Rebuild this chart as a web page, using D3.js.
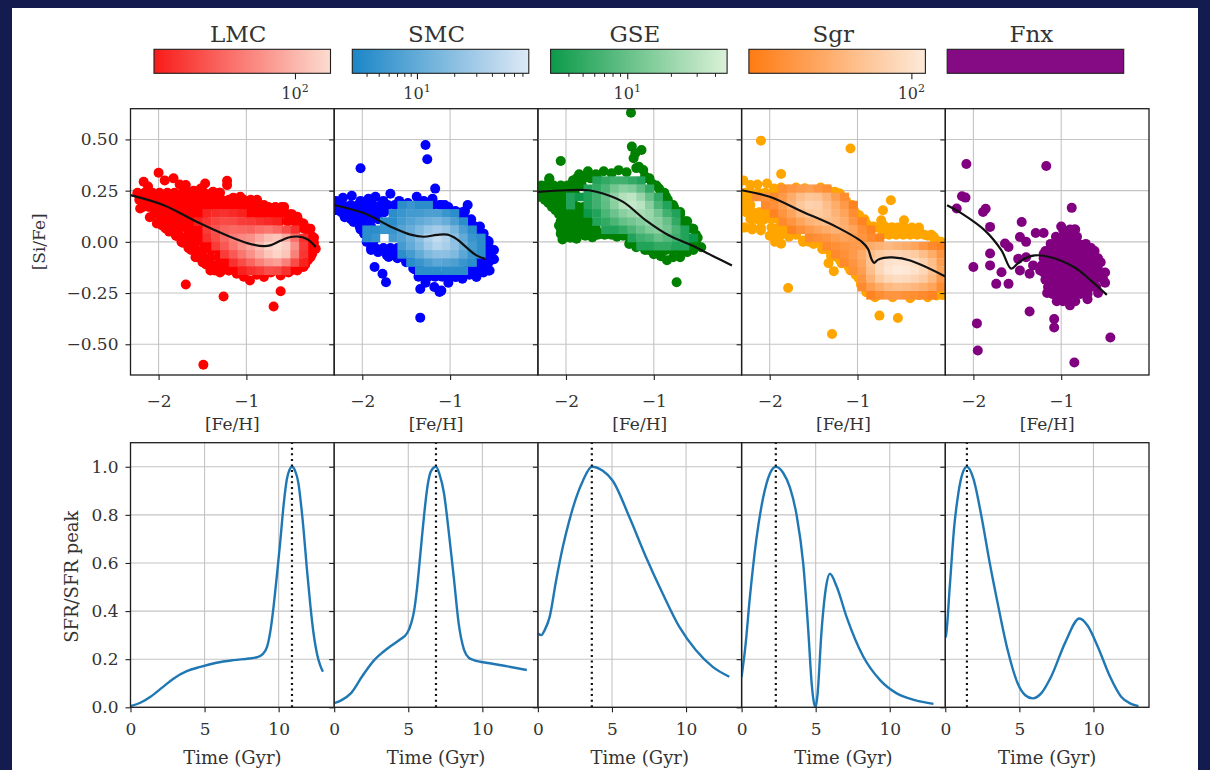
<!DOCTYPE html>
<html>
<head>
<meta charset="utf-8">
<script src="https://cdn.jsdelivr.net/npm/d3@7"></script>
<style>
  html, body { margin: 0; padding: 0; background: #141b4f; }
  svg { display: block; }
</style>
</head>
<body>
<svg id="fig" width="1210" height="770"></svg>
<script>
// ---------------------------------------------------------------
// Axis ranges and tick values
// ---------------------------------------------------------------
const fehDomain = [-2.32, 0.0];
const siDomain = [-0.65, 0.65];
const timeDomain = [0, 13.75];
const sfrDomain = [0, 1.1];
const fehTicks = [-2, -1];
const siTicks = [0.5, 0.25, 0, -0.25, -0.5];
const timeTicks = [0, 5, 10];
const sfrTicks = [0, 0.2, 0.4, 0.6, 0.8, 1.0];

// ---------------------------------------------------------------
// Galaxies, colours and density colour bars
// ---------------------------------------------------------------
const galaxyNames = ["LMC", "SMC", "GSE", "Sgr", "Fnx"];
const starColors = ["#ff0000", "#0000ff", "#008000", "#ffa500", "#800080"];
const densityLow = ["#f81c1a", "#1b86c6", "#0c9a4a", "#ff7b12", "#850b85"];
const densityHigh = ["#fcdcd0", "#dde9f6", "#dbf2d8", "#fdeada", "#850b85"];
const densityRange = [[20, 150], [3.05, 78], [3, 48], [10, 122], null];
const colorbarMajor = [[100], [10], [10], [100], []];
const colorbarMinor = [[], [4, 5, 6, 7, 8, 9, 20, 30, 40, 50, 60, 70], [4, 5, 6, 7, 8, 9, 20, 30, 40], [], []];
const peakTimes = [10.9, 6.87, 3.64, 2.31, 1.46];

// ---------------------------------------------------------------
// Stars: rows are [Si/Fe, Fe/H, Fe/H, ...]; edge and single lists are [Fe/H, Si/Fe]
// ---------------------------------------------------------------
const lmcStarRows = [
  [0.24, -2.24, -2.16, -2.07, -1.99, -1.90, -1.82, -1.73, -1.65, -1.56, -1.48, -1.39, -1.31],
  [0.205, -2.22, -2.13, -2.05, -1.96, -1.88, -1.79, -1.71, -1.62, -1.54, -1.45, -1.37, -1.28, -1.20, -1.11, -1.03, -0.95, -0.88],
  [0.17, -2.18, -2.11, -2.03, -1.94, -1.86, -1.77, -1.69, -1.60, -1.52, -1.43, -1.35, -1.26, -1.18, -1.09, -1.01, -0.92, -0.84, -0.75, -0.67, -0.60],
  [0.135, -2.05, -1.99, -1.90, -1.82, -1.73, -1.65, -1.56, -1.48, -0.97, -0.88, -0.80, -0.71, -0.63, -0.54, -0.48],
  [0.10, -1.98, -1.92, -1.83, -1.75, -1.66, -1.58, -0.62, -0.53, -0.45, -0.40],
  [0.065, -1.92, -1.85, -1.77, -1.68, -1.60, -1.52, -0.42, -0.35, -0.30],
  [0.03, -1.80, -1.76, -1.67, -1.59, -1.51, -0.30, -0.26],
  [-0.005, -1.72, -1.66, -1.58, -1.49, -1.42, -0.29, -0.23],
  [-0.04, -1.63, -1.57, -1.49, -1.40, -1.32, -0.28, -0.24],
  [-0.075, -1.55, -1.49, -1.41, -1.32, -1.24, -0.30, -0.27],
  [-0.11, -1.46, -1.40, -1.32, -1.23, -1.15, -0.33],
  [-0.14, -1.36, -1.28, -1.20, -1.13, -1.05, -0.97, -0.89, -0.81, -0.73, -0.65, -0.57, -0.49, -0.42]
];
const lmcStarEdge = [
  [-2.24, 0.236], [-2.17, 0.293], [-2.12, 0.27], [-2.0, 0.337], [-1.93, 0.30], [-1.83, 0.31], [-1.76, 0.28], [-1.69, 0.277],
  [-1.60, 0.25], [-1.52, 0.26], [-1.47, 0.285], [-1.38, 0.245], [-1.30, 0.24], [-1.22, 0.298], [-1.22, 0.277], [-1.15, 0.215],
  [-1.07, 0.22], [-0.98, 0.20], [-0.88, 0.203], [-0.80, 0.18], [-0.72, 0.165], [-0.63, 0.155], [-0.57, 0.17], [-0.50, 0.135],
  [-0.42, 0.122], [-0.35, 0.09], [-0.27, 0.064], [-0.23, 0.02], [-0.21, -0.034],
  [-2.21, 0.163], [-2.10, 0.12], [-2.02, 0.09], [-1.96, 0.08], [-1.88, 0.05], [-1.80, 0.03], [-1.73, 0.007], [-1.66, -0.03],
  [-1.58, -0.075], [-1.50, -0.10], [-1.41, -0.14], [-1.30, -0.15], [-1.20, -0.14], [-1.11, -0.156], [-1.03, -0.17], [-0.96, -0.189],
  [-0.88, -0.16], [-0.80, -0.172], [-0.72, -0.15], [-0.61, -0.164], [-0.52, -0.15], [-0.44, -0.135], [-0.35, -0.123], [-0.30, -0.09], [-0.25, -0.058]
];
const lmcStarSingles = [[-1.74, 0.0], [-1.69, -0.208], [-1.26, -0.267], [-0.69, -0.316], [-0.61, -0.241], [-1.49, -0.60]];

const smcStarRows = [
  [0.18, -2.28, -2.22, -2.13, -2.05, -1.96, -1.88, -1.79, -1.71, -1.63, -1.20, -1.12, -1.06],
  [0.145, -2.24, -2.17, -2.09, -2.00, -1.92, -1.83, -1.75, -0.92, -0.86],
  [0.11, -2.13, -2.07, -1.98, -1.90, -1.82, -0.82, -0.76],
  [0.075, -2.03, -1.98, -1.90, -0.72, -0.66],
  [0.04, -1.98, -1.92, -0.68, -0.62],
  [0.005, -1.93, -1.87, -0.62, -0.57],
  [-0.03, -1.90, -1.85, -1.76, -1.68, -1.60, -0.60, -0.55],
  [-0.065, -1.72, -1.67, -1.60, -0.60, -0.54],
  [-0.10, -1.50, -1.45, -0.68, -0.60, -0.56],
  [-0.135, -1.40, -1.35, -0.80, -0.72, -0.64, -0.58],
  [-0.17, -1.31, -1.25, -1.17, -1.09, -1.01, -0.93]
];
const smcStarEdge = [
  [-2.30, 0.20], [-2.22, 0.215], [-2.12, 0.225], [-2.02, 0.20], [-1.93, 0.21], [-1.85, 0.22], [-1.76, 0.20], [-1.68, 0.235],
  [-1.58, 0.20], [-1.48, 0.19], [-1.38, 0.22], [-1.30, 0.20], [-1.20, 0.21], [-1.10, 0.18], [-1.02, 0.17], [-0.94, 0.15],
  [-0.86, 0.12], [-0.80, 0.10], [-0.74, 0.08], [-0.67, 0.06], [-0.62, 0.04], [-0.56, 0.0], [-0.50, -0.04], [-0.50, -0.085],
  [-2.30, 0.155], [-2.20, 0.12], [-2.10, 0.097], [-2.02, 0.06], [-1.95, 0.0], [-1.90, -0.04], [-1.82, -0.05], [-1.70, -0.074],
  [-1.60, -0.08], [-1.50, -0.091], [-1.42, -0.13], [-1.36, -0.17], [-1.28, -0.20], [-1.18, -0.22], [-1.10, -0.238], [-1.02, -0.20],
  [-0.94, -0.172], [-0.86, -0.18], [-0.78, -0.16], [-0.70, -0.172], [-0.62, -0.15], [-0.55, -0.14]
];
const smcStarSingles = [[-1.28, 0.473], [-1.26, 0.403], [-2.02, 0.359], [-1.17, 0.26], [-0.80, 0.18], [-0.83, 0.15], [-1.34, -0.37], [-1.12, -0.245], [-1.34, -0.23], [-1.86, -0.123], [-1.77, -0.156], [-1.73, -0.197], [-0.54, -0.083], [-0.56, -0.14]];

const gseStarRows = [
  [0.31, -2.19, -1.88, -1.80, -1.72, -1.64, -1.10, -1.05],
  [0.275, -2.28, -2.22, -2.14, -2.06, -1.98, -1.90, -1.82, -1.00, -0.97],
  [0.24, -2.28, -2.22, -2.13, -2.05, -1.97, -1.90, -0.92, -0.88],
  [0.205, -2.24, -2.17, -2.08, -2.00, -1.92, -0.88, -0.84],
  [0.17, -2.16, -2.10, -2.02, -1.94, -1.86, -1.80, -0.80, -0.77],
  [0.135, -2.08, -2.02, -1.94, -1.86, -1.80, -0.72, -0.70],
  [0.10, -2.06, -1.98, -1.90, -1.82, -1.74, -0.70, -0.64],
  [0.065, -2.06, -1.98, -1.90, -1.82, -1.74, -1.66, -0.60, -0.57],
  [0.035, -2.02, -1.97, -1.88, -1.80, -1.72, -1.64, -1.56, -1.48, -1.40, -1.32, -0.52],
  [-0.01, -1.28, -1.20, -0.58, -0.52],
  [-0.04, -1.06, -0.98, -0.94, -0.86, -0.78, -0.70, -0.64]
];
const gseStarEdge = [
  [-2.30, 0.265], [-2.22, 0.275], [-2.12, 0.26], [-2.02, 0.27], [-1.92, 0.30], [-1.85, 0.33], [-1.75, 0.345], [-1.66, 0.33],
  [-1.57, 0.345], [-1.48, 0.335], [-1.40, 0.35], [-1.31, 0.34], [-1.20, 0.36], [-1.10, 0.32], [-1.02, 0.285], [-0.94, 0.26],
  [-0.86, 0.22], [-0.78, 0.18], [-0.70, 0.146], [-0.62, 0.10], [-0.55, 0.064], [-0.50, 0.02], [-0.46, -0.026],
  [-2.30, 0.22], [-2.20, 0.19], [-2.12, 0.155], [-2.08, 0.08], [-2.06, 0.04], [-2.04, 0.012], [-1.95, 0.02], [-1.88, 0.015],
  [-1.78, 0.03], [-1.70, 0.022], [-1.60, 0.04], [-1.50, 0.038], [-1.42, 0.025], [-1.35, 0.03], [-1.27, 0.0], [-1.20, -0.026],
  [-1.10, -0.04], [-1.00, -0.06], [-0.92, -0.07], [-0.85, -0.09], [-0.78, -0.075], [-0.70, -0.075], [-0.62, -0.05], [-0.55, -0.04]
];
const gseStarSingles = [[-1.26, 0.63], [-1.25, 0.465], [-1.21, 0.432], [-1.14, 0.448], [-1.23, 0.408], [-1.17, 0.367], [-1.12, 0.351], [-2.06, 0.395], [-2.19, 0.306], [-0.74, -0.197]];

const sgrStarRows = [
  [0.24, -2.28, -2.22, -2.13, -2.05, -1.96, -1.88, -1.80, -1.71, -1.63, -1.55, -1.46, -1.38, -1.30, -1.24],
  [0.215, -2.28, -2.22, -1.20, -1.16],
  [0.18, -2.28, -2.22, -1.10, -1.06],
  [0.145, -2.27, -2.20, -2.12, -2.04, -1.03],
  [0.11, -2.22, -2.14, -2.06, -1.98, -1.90, -0.96, -0.92],
  [0.07, -2.28, -2.20, -2.10, -1.98, -1.90, -1.82, -0.84, -0.78, -0.70, -0.62, -0.54, -0.46, -0.38, -0.30],
  [0.035, -1.95, -1.87, -1.78, -1.70, -0.72, -0.64, -0.56, -0.48, -0.40, -0.32, -0.24, -0.16],
  [0.0, -1.62, -1.55, -1.48, -1.40, -0.12, -0.05],
  [-0.035, -1.40, -1.36],
  [-0.07, -1.30, -1.26],
  [-0.105, -1.18, -1.14],
  [-0.14, -1.08, -1.05],
  [-0.175, -0.99, -0.96],
  [-0.21, -0.96, -0.92],
  [-0.245, -0.88, -0.84],
  [-0.255, -0.76, -0.68, -0.60, -0.52, -0.44, -0.36, -0.28, -0.20, -0.12, -0.04]
];
const sgrStarEdge = [
  [-2.30, 0.30], [-2.22, 0.277], [-2.14, 0.28], [-2.03, 0.285], [-1.95, 0.26], [-1.87, 0.265], [-1.78, 0.255], [-1.70, 0.265],
  [-1.60, 0.262], [-1.52, 0.25], [-1.42, 0.265], [-1.34, 0.255], [-1.26, 0.245], [-1.20, 0.236], [-1.13, 0.20], [-1.05, 0.163],
  [-0.98, 0.13], [-0.90, 0.089], [-0.82, 0.075], [-0.70, 0.08], [-0.60, 0.07], [-0.50, 0.072], [-0.40, 0.06], [-0.30, 0.056],
  [-0.20, 0.03], [-0.10, 0.007],
  [-2.30, 0.07], [-2.20, 0.06], [-2.10, 0.056], [-2.00, 0.03], [-1.94, 0.0], [-1.87, -0.009], [-1.78, 0.025], [-1.70, 0.04],
  [-1.62, 0.007], [-1.50, -0.01], [-1.40, -0.035], [-1.30, -0.057], [-1.20, -0.09], [-1.10, -0.123], [-1.02, -0.16], [-0.96, -0.20],
  [-0.90, -0.246], [-0.80, -0.27], [-0.70, -0.255], [-0.60, -0.27], [-0.50, -0.254], [-0.40, -0.275], [-0.30, -0.26], [-0.20, -0.27],
  [-0.10, -0.262], [-0.03, -0.26]
];
const sgrStarSingles = [[-2.10, 0.494], [-1.08, 0.456], [-1.87, 0.331], [-1.79, -0.225], [-1.29, -0.45], [-0.75, -0.36], [-0.54, -0.372], [-1.33, -0.104], [-1.27, -0.143], [-0.62, 0.203], [-0.71, 0.154], [-0.73, 0.105], [-0.47, 0.105], [-0.13, 0.024]];

const fnxStarRows = [
  [0.06, -0.98, -0.90, -0.84],
  [0.025, -1.06, -0.98, -0.90, -0.82],
  [-0.01, -1.12, -1.04, -0.96, -0.88, -0.80, -0.72],
  [-0.045, -1.18, -1.10, -1.02, -0.94, -0.86, -0.78, -0.70, -0.62],
  [-0.08, -1.20, -1.12, -1.04, -0.96, -0.88, -0.80, -0.72, -0.64, -0.58],
  [-0.115, -1.22, -1.14, -1.06, -0.98, -0.90, -0.82, -0.74, -0.66, -0.58],
  [-0.15, -1.20, -1.12, -1.04, -0.96, -0.88, -0.80, -0.72, -0.64, -0.56, -0.50],
  [-0.185, -1.18, -1.10, -1.02, -0.94, -0.86, -0.78, -0.70, -0.62, -0.52],
  [-0.22, -1.15, -1.07, -0.99, -0.91, -0.83, -0.75, -0.66, -0.60],
  [-0.255, -1.10, -1.02, -0.94, -0.86, -0.78, -0.70],
  [-0.29, -0.98, -0.90, -0.84]
];
const fnxStarEdge = [
  [-1.00, 0.075], [-0.85, 0.06], [-0.66, -0.03], [-0.55, -0.10], [-0.50, -0.20], [-0.58, -0.25], [-0.70, -0.28],
  [-0.90, -0.31], [-1.05, -0.29], [-1.16, -0.25], [-1.24, -0.14], [-1.20, -0.06]
];
const fnxStarSingles = [[-2.08, 0.38], [-1.17, 0.37], [-2.13, 0.223], [-2.09, 0.216], [-2.19, 0.163], [-0.88, 0.166], [-1.89, 0.146], [-1.86, 0.162], [-1.81, 0.073], [-1.45, 0.097], [-1.47, 0.024], [-1.40, 0.0], [-1.29, 0.043], [-1.20, 0.043], [-1.64, -0.008], [-1.60, -0.025], [-1.81, -0.057], [-1.81, -0.115], [-2.0, -0.123], [-1.68, -0.148], [-1.74, -0.205], [-1.60, -0.205], [-1.47, -0.14], [-1.36, -0.156], [-1.49, -0.083], [-1.40, -0.075], [-1.32, -0.115], [-1.36, -0.34], [-1.08, -0.377], [-1.08, -0.418], [-1.96, -0.398], [-1.95, -0.53], [-0.85, -0.589], [-0.44, -0.467]];

// ---------------------------------------------------------------
// 2D density counts: bin edges in Fe/H and Si/Fe (top to bottom)
// ---------------------------------------------------------------
const lmcBinFe = [-1.6, -1.5, -1.4, -1.3, -1.2, -1.1, -1.0, -0.9, -0.8, -0.7, -0.6, -0.5, -0.4, -0.3];
const lmcBinSi = [0.16, 0.12, 0.08, 0.04, 0.0, -0.04, -0.08, -0.12, -0.16];
const lmcCounts = [
  [0, 22, 24, 25, 23, 21, 0, 0, 0, 0, 0, 0, 0],
  [21, 26, 30, 33, 32, 28, 27, 25, 23, 21, 0, 0, 0],
  [0, 28, 35, 42, 45, 44, 42, 48, 52, 45, 34, 25, 0],
  [0, 25, 33, 45, 56, 62, 68, 88, 108, 118, 88, 48, 25],
  [0, 0, 28, 38, 52, 68, 82, 108, 138, 150, 128, 68, 28],
  [0, 0, 0, 28, 38, 52, 68, 92, 118, 138, 118, 58, 26],
  [0, 0, 0, 0, 25, 33, 43, 58, 72, 78, 58, 33, 21],
  [0, 0, 0, 0, 0, 21, 25, 28, 34, 32, 25, 0, 0]
];

const smcBinFe = [-2.0, -1.9, -1.8, -1.7, -1.6, -1.5, -1.4, -1.3, -1.2, -1.1, -1.0, -0.9, -0.8, -0.7, -0.6];
const smcBinSi = [0.20, 0.16, 0.12, 0.08, 0.04, 0.0, -0.04, -0.08, -0.12, -0.16];
const smcCounts = [
  [0, 0, 0, 0, 4, 5, 4, 4, 0, 0, 0, 0, 0, 0],
  [0, 0, 0, 4, 5, 6, 6, 7, 7, 5, 4, 0, 0, 0],
  [0, 0, 4, 4, 6, 8, 10, 12, 14, 11, 7, 4, 0, 0],
  [4, 4, 5, 5, 8, 11, 16, 24, 30, 24, 14, 7, 4, 0],
  [4, 5, 0, 6, 8, 12, 20, 35, 50, 38, 20, 10, 5, 4],
  [0, 0, 0, 0, 6, 10, 16, 28, 40, 32, 22, 12, 6, 4],
  [0, 0, 0, 0, 4, 6, 10, 16, 20, 20, 16, 9, 5, 4],
  [0, 0, 0, 0, 0, 4, 5, 7, 9, 8, 7, 5, 4, 0],
  [0, 0, 0, 0, 0, 0, 4, 4, 4, 4, 4, 4, 0, 0]
];

const gseBinFe = [-2.0, -1.9, -1.8, -1.7, -1.6, -1.5, -1.4, -1.3, -1.2, -1.1, -1.0, -0.9, -0.8, -0.7, -0.6, -0.5];
const gseBinSi = [0.32, 0.28, 0.24, 0.20, 0.16, 0.12, 0.08, 0.04, 0.0, -0.04];
const gseCounts = [
  [0, 0, 0, 4, 5, 6, 6, 5, 4, 0, 0, 0, 0, 0, 0],
  [0, 0, 4, 5, 7, 12, 16, 14, 9, 5, 0, 0, 0, 0, 0],
  [4, 3, 4, 6, 10, 18, 28, 32, 20, 10, 5, 0, 0, 0, 0],
  [4, 0, 4, 6, 9, 16, 28, 35, 30, 16, 7, 4, 0, 0, 0],
  [0, 0, 3, 4, 7, 11, 16, 20, 24, 20, 12, 6, 4, 0, 0],
  [0, 0, 0, 4, 5, 7, 10, 12, 15, 19, 16, 10, 5, 0, 0],
  [0, 0, 0, 0, 4, 4, 5, 7, 10, 14, 16, 12, 7, 4, 0],
  [0, 0, 0, 0, 0, 0, 0, 4, 6, 7, 10, 8, 6, 4, 3],
  [0, 0, 0, 0, 0, 0, 0, 0, 4, 4, 5, 5, 4, 4, 0]
];

const sgrBinFe = [-2.2, -2.1, -2.0, -1.9, -1.8, -1.7, -1.6, -1.5, -1.4, -1.3, -1.2, -1.1, -1.0, -0.9, -0.8, -0.7, -0.6, -0.5, -0.4, -0.3, -0.2, -0.1, 0.0];
const sgrBinSi = [0.28, 0.24, 0.20, 0.16, 0.12, 0.08, 0.04, 0.0, -0.04, -0.08, -0.12, -0.16, -0.20, -0.24, -0.28];
const sgrCounts = [
  [0, 0, 0, 15, 18, 20, 22, 18, 15, 0, 0, 0, 0, 0, 0, 0, 0, 0, 0, 0, 0, 0],
  [15, 18, 14, 20, 30, 45, 55, 50, 35, 22, 15, 0, 0, 0, 0, 0, 0, 0, 0, 0, 0, 0],
  [0, 14, 16, 22, 35, 55, 70, 65, 45, 30, 20, 12, 0, 0, 0, 0, 0, 0, 0, 0, 0, 0],
  [0, 0, 12, 18, 25, 40, 55, 60, 50, 35, 25, 15, 0, 0, 0, 0, 0, 0, 0, 0, 0, 0],
  [0, 0, 0, 14, 18, 25, 35, 40, 45, 40, 30, 18, 12, 0, 0, 0, 0, 0, 0, 0, 0, 0],
  [0, 0, 0, 0, 12, 16, 20, 25, 30, 35, 32, 25, 16, 12, 0, 0, 0, 0, 0, 0, 0, 0],
  [0, 0, 0, 0, 0, 0, 14, 16, 18, 22, 25, 22, 18, 14, 12, 0, 0, 0, 0, 0, 0, 0],
  [0, 0, 0, 0, 0, 0, 0, 0, 14, 16, 18, 20, 22, 30, 35, 40, 35, 30, 25, 18, 14, 12],
  [0, 0, 0, 0, 0, 0, 0, 0, 0, 14, 16, 20, 28, 45, 60, 70, 75, 70, 60, 45, 30, 18],
  [0, 0, 0, 0, 0, 0, 0, 0, 0, 0, 14, 18, 25, 50, 80, 100, 110, 105, 90, 70, 45, 22],
  [0, 0, 0, 0, 0, 0, 0, 0, 0, 0, 0, 16, 22, 45, 80, 110, 122, 115, 100, 80, 50, 25],
  [0, 0, 0, 0, 0, 0, 0, 0, 0, 0, 0, 0, 18, 35, 60, 80, 90, 85, 75, 60, 40, 20],
  [0, 0, 0, 0, 0, 0, 0, 0, 0, 0, 0, 0, 14, 22, 30, 40, 45, 42, 38, 32, 25, 15],
  [0, 0, 0, 0, 0, 0, 0, 0, 0, 0, 0, 0, 0, 12, 15, 18, 18, 16, 15, 14, 12, 0]
];

// ---------------------------------------------------------------
// Model tracks in the [Si/Fe]-[Fe/H] plane: [Fe/H, Si/Fe]
// ---------------------------------------------------------------
const lmcTrack = [[-2.32, 0.228], [-1.94, 0.179], [-1.56, 0.097], [-1.18, 0.024], [-0.99, -0.006], [-0.80, -0.021], [-0.72, -0.016], [-0.62, 0.004], [-0.52, 0.021], [-0.42, 0.026], [-0.31, 0.014], [-0.21, -0.025]];
const smcTrack = [[-2.32, 0.18], [-1.97, 0.138], [-1.67, 0.073], [-1.45, 0.035], [-1.30, 0.025], [-1.15, 0.034], [-1.03, 0.035], [-0.92, 0.012], [-0.82, -0.025], [-0.70, -0.066], [-0.60, -0.083]];
const gseTrack = [[-2.32, 0.244], [-2.0, 0.252], [-1.74, 0.252], [-1.58, 0.236], [-1.35, 0.195], [-1.09, 0.105], [-0.83, 0.032], [-0.57, -0.017], [-0.30, -0.075], [-0.11, -0.115]];
const sgrTrack = [[-2.32, 0.252], [-2.0, 0.22], [-1.62, 0.146], [-1.24, 0.073], [-0.95, 0.0], [-0.88, -0.035], [-0.84, -0.085], [-0.81, -0.103], [-0.77, -0.088], [-0.70, -0.078], [-0.60, -0.076], [-0.40, -0.091], [0.0, -0.169]];
const fnxTrack = [[-2.30, 0.179], [-2.13, 0.138], [-1.87, 0.056], [-1.68, -0.042], [-1.57, -0.131], [-1.50, -0.108], [-1.42, -0.082], [-1.30, -0.066], [-1.12, -0.075], [-0.85, -0.124], [-0.66, -0.189], [-0.48, -0.259]];

// ---------------------------------------------------------------
// Star formation histories: [time (Gyr), SFR / SFR peak]
// ---------------------------------------------------------------
const lmcSfr = [[0, 0.005], [0.7, 0.02], [1.35, 0.044], [2.2, 0.085], [2.92, 0.12], [3.8, 0.15], [4.72, 0.168], [5.8, 0.185], [6.96, 0.196], [8.0, 0.203], [8.54, 0.208], [8.9, 0.22], [9.21, 0.25], [9.45, 0.32], [9.66, 0.42], [9.9, 0.56], [10.11, 0.69], [10.35, 0.85], [10.56, 0.95], [10.75, 0.99], [10.9, 1.0], [11.1, 0.985], [11.34, 0.93], [11.5, 0.85], [11.68, 0.74], [11.9, 0.58], [12.13, 0.43], [12.35, 0.31], [12.58, 0.225], [12.8, 0.175], [12.99, 0.148]];
const smcSfr = [[0, 0.017], [0.5, 0.03], [1.12, 0.058], [1.9, 0.13], [2.7, 0.196], [3.3, 0.23], [3.82, 0.255], [4.4, 0.28], [4.94, 0.31], [5.2, 0.35], [5.39, 0.4], [5.6, 0.5], [5.85, 0.66], [6.07, 0.8], [6.3, 0.92], [6.52, 0.98], [6.87, 1.0], [7.1, 0.97], [7.41, 0.89], [7.75, 0.72], [8.09, 0.53], [8.4, 0.35], [8.76, 0.24], [9.1, 0.205], [9.43, 0.196], [10.5, 0.183], [11.7, 0.17], [13.0, 0.155]];
const gseSfr = [[0, 0.307], [0.23, 0.3], [0.45, 0.32], [0.79, 0.375], [1.23, 0.527], [1.68, 0.666], [2.12, 0.776], [2.59, 0.873], [3.04, 0.942], [3.64, 1.0], [4.38, 0.983], [5.05, 0.942], [6.18, 0.79], [7.3, 0.624], [8.43, 0.472], [9.55, 0.334], [10.67, 0.237], [11.8, 0.168], [12.92, 0.127]];
const sgrSfr = [[0, 0.127], [0.25, 0.25], [0.56, 0.458], [1.0, 0.7], [1.46, 0.873], [1.9, 0.97], [2.31, 1.0], [2.8, 0.975], [3.26, 0.914], [3.71, 0.80], [4.16, 0.597], [4.5, 0.32], [4.73, 0.099], [4.88, 0.02], [5.0, 0.0], [5.12, 0.05], [5.4, 0.32], [5.7, 0.5], [5.96, 0.555], [6.43, 0.5], [7.09, 0.375], [8.22, 0.21], [9.35, 0.113], [10.47, 0.058], [11.7, 0.03], [12.95, 0.014]];
const fnxSfr = [[0, 0.29], [0.05, 0.3], [0.3, 0.5], [0.6, 0.75], [0.84, 0.873], [1.15, 0.97], [1.46, 1.0], [1.9, 0.95], [2.41, 0.804], [3.0, 0.6], [3.54, 0.431], [4.2, 0.24], [4.89, 0.099], [5.4, 0.05], [5.9, 0.037], [6.5, 0.06], [7.14, 0.127], [8.1, 0.27], [9.05, 0.369], [9.6, 0.34], [10.3, 0.251], [11.1, 0.13], [11.87, 0.044], [12.5, 0.015], [13.04, 0.005]];

// ---------------------------------------------------------------
// Assemble per-galaxy records
// ---------------------------------------------------------------
const flattenRows = rows => rows.flatMap(([si, ...fes]) => fes.map(fe => [fe, si]));
const galaxies = [
  { stars: flattenRows(lmcStarRows).concat(lmcStarEdge, lmcStarSingles), binFe: lmcBinFe, binSi: lmcBinSi, counts: lmcCounts, track: lmcTrack, sfr: lmcSfr },
  { stars: flattenRows(smcStarRows).concat(smcStarEdge, smcStarSingles), binFe: smcBinFe, binSi: smcBinSi, counts: smcCounts, track: smcTrack, sfr: smcSfr },
  { stars: flattenRows(gseStarRows).concat(gseStarEdge, gseStarSingles), binFe: gseBinFe, binSi: gseBinSi, counts: gseCounts, track: gseTrack, sfr: gseSfr },
  { stars: flattenRows(sgrStarRows).concat(sgrStarEdge, sgrStarSingles), binFe: sgrBinFe, binSi: sgrBinSi, counts: sgrCounts, track: sgrTrack, sfr: sgrSfr },
  { stars: flattenRows(fnxStarRows).concat(fnxStarEdge, fnxStarSingles), binFe: null, binSi: null, counts: null, track: fnxTrack, sfr: fnxSfr }
];

// ---------------------------------------------------------------
// Layout
// ---------------------------------------------------------------
const W = 1210, H = 770;
const plotLeft = 130.5, plotW = 203.7;
const topY = 108.7, topH = 266.3;
const botY = 442.7, botH = 264.6;
const cbTop = 49.3, cbH = 24, cbW = 176.5, cbLeft0 = 154, cbStep = 198.3;
const serif = "'DejaVu Serif', 'Liberation Serif', serif";
const inkColor = "#333";
const gridColor = "#c4c4c4";
const spineColor = "#1e1e1e";
const tickFont = 17;

const svg = d3.select("#fig");
const defs = svg.append("defs");

svg.append("rect").attr("width", W).attr("height", H).attr("fill", "#141b4f");
svg.append("rect").attr("x", 12).attr("y", 8).attr("width", 1186).attr("height", H - 8).attr("fill", "#ffffff");

const x = d3.scaleLinear().domain(fehDomain).range([0, plotW]);
const ySi = d3.scaleLinear().domain(siDomain).range([topH, 0]);
const xT = d3.scaleLinear().domain(timeDomain).range([0, plotW]);
const ySfr = d3.scaleLinear().domain(sfrDomain).range([botH, 0]);

function densityColor(i, c) {
  const [lo, hi] = densityRange[i];
  const t = Math.max(0, Math.min(1, Math.log(c / lo) / Math.log(hi / lo)));
  return d3.interpolateRgb(densityLow[i], densityHigh[i])(t);
}

function styleAxis(sel, fontSize) {
  sel.attr("font-family", serif).attr("font-size", fontSize);
  sel.select(".domain").remove();
  sel.selectAll(".tick line").attr("stroke", spineColor).attr("stroke-width", 1.1);
  sel.selectAll(".tick text").attr("fill", inkColor);
}

// ---------------------------------------------------------------
// Colour bars with titles
// ---------------------------------------------------------------
galaxyNames.forEach((name, i) => {
  const left = cbLeft0 + i * cbStep;
  const g = svg.append("g").attr("transform", `translate(${left},${cbTop})`);
  const gradId = "cbGrad" + i;
  const grad = defs.append("linearGradient").attr("id", gradId).attr("x1", "0%").attr("x2", "100%");
  d3.range(11).forEach(k => {
    grad.append("stop").attr("offset", (k * 10) + "%")
      .attr("stop-color", d3.interpolateRgb(densityLow[i], densityHigh[i])(k / 10));
  });
  g.append("rect").attr("width", cbW).attr("height", cbH).attr("fill", `url(#${gradId})`)
    .attr("stroke", spineColor).attr("stroke-width", 1.1);

  svg.append("text").attr("x", left + cbW / 2 - 4).attr("y", 42)
    .attr("text-anchor", "middle").attr("font-family", serif).attr("font-size", 23)
    .attr("fill", inkColor).text(name);

  if (densityRange[i]) {
    const s = d3.scaleLog().domain(densityRange[i]).range([0, cbW]);
    g.selectAll(".minor").data(colorbarMinor[i]).join("line")
      .attr("x1", d => s(d)).attr("x2", d => s(d))
      .attr("y1", cbH).attr("y2", cbH + 3.5)
      .attr("stroke", spineColor).attr("stroke-width", 1);
    const ax = g.append("g").attr("transform", `translate(0,${cbH})`)
      .call(d3.axisBottom(s).tickValues(colorbarMajor[i]).tickSize(6).tickFormat(""));
    styleAxis(ax, 16);
    colorbarMajor[i].forEach(v => {
      const t = g.append("text").attr("x", s(v)).attr("y", 50).attr("text-anchor", "middle")
        .attr("font-family", serif).attr("font-size", 16).attr("fill", inkColor);
      t.append("tspan").text("10");
      t.append("tspan").attr("dy", -7).attr("font-size", 11).text(String(Math.round(Math.log10(v))));
    });
  }
});

// ---------------------------------------------------------------
// Upper row: [Si/Fe] vs [Fe/H]
// ---------------------------------------------------------------
galaxies.forEach((gal, i) => {
  const g = svg.append("g").attr("transform", `translate(${plotLeft + i * plotW},${topY})`);
  const clipId = "clipTop" + i;
  defs.append("clipPath").attr("id", clipId).append("rect").attr("width", plotW).attr("height", topH);

  g.selectAll(".gv").data(fehTicks).join("line")
    .attr("x1", d => x(d)).attr("x2", d => x(d)).attr("y1", 0).attr("y2", topH)
    .attr("stroke", gridColor).attr("stroke-width", 1.1);
  g.selectAll(".gh").data(siTicks).join("line")
    .attr("x1", 0).attr("x2", plotW).attr("y1", d => ySi(d)).attr("y2", d => ySi(d))
    .attr("stroke", gridColor).attr("stroke-width", 1.1);

  const body = g.append("g").attr("clip-path", `url(#${clipId})`);
  body.append("g").selectAll("circle").data(gal.stars).join("circle")
    .attr("cx", d => x(d[0])).attr("cy", d => ySi(d[1])).attr("r", 5)
    .attr("fill", starColors[i]);

  if (gal.counts) {
    const cells = [];
    gal.counts.forEach((row, r) => row.forEach((c, k) => {
      if (c > 0) cells.push({ fe0: gal.binFe[k], fe1: gal.binFe[k + 1], si0: gal.binSi[r], si1: gal.binSi[r + 1], c });
    }));
    body.append("g").selectAll("rect").data(cells).join("rect")
      .attr("x", d => x(d.fe0)).attr("width", d => x(d.fe1) - x(d.fe0) + 0.4)
      .attr("y", d => ySi(d.si0)).attr("height", d => ySi(d.si1) - ySi(d.si0) + 0.4)
      .attr("fill", d => densityColor(i, d.c));
  }

  body.append("path").datum(gal.track)
    .attr("d", d3.line().x(d => x(d[0])).y(d => ySi(d[1])).curve(d3.curveCatmullRom.alpha(0.5)))
    .attr("fill", "none").attr("stroke", "#111").attr("stroke-width", 2.2);

  g.append("rect").attr("width", plotW).attr("height", topH)
    .attr("fill", "none").attr("stroke", spineColor).attr("stroke-width", 1.3);

  const ax = g.append("g").attr("transform", `translate(0,${topH})`)
    .call(d3.axisBottom(x).tickValues(fehTicks).tickSize(5).tickPadding(14.8).tickFormat(d3.format("d")));
  styleAxis(ax, tickFont);
  const ay = g.append("g")
    .call(d3.axisLeft(ySi).tickValues(siTicks).tickSize(5).tickPadding(7)
      .tickFormat(i === 0 ? d3.format(".2f") : () => ""));
  styleAxis(ay, tickFont);

  g.append("text").attr("x", plotW / 2).attr("y", topH + 55)
    .attr("text-anchor", "middle").attr("font-family", serif).attr("font-size", 17)
    .attr("fill", inkColor).text("[Fe/H]");
});

// ---------------------------------------------------------------
// Lower row: normalised star formation histories
// ---------------------------------------------------------------
galaxies.forEach((gal, i) => {
  const g = svg.append("g").attr("transform", `translate(${plotLeft + i * plotW},${botY})`);
  const clipId = "clipBot" + i;
  defs.append("clipPath").attr("id", clipId).append("rect").attr("width", plotW).attr("height", botH);

  g.selectAll(".gv").data(timeTicks).join("line")
    .attr("x1", d => xT(d)).attr("x2", d => xT(d)).attr("y1", 0).attr("y2", botH)
    .attr("stroke", gridColor).attr("stroke-width", 1.1);
  g.selectAll(".gh").data(sfrTicks).join("line")
    .attr("x1", 0).attr("x2", plotW).attr("y1", d => ySfr(d)).attr("y2", d => ySfr(d))
    .attr("stroke", gridColor).attr("stroke-width", 1.1);

  const body = g.append("g").attr("clip-path", `url(#${clipId})`);
  body.append("path").datum(gal.sfr)
    .attr("d", d3.line().x(d => xT(d[0])).y(d => ySfr(d[1])).curve(d3.curveMonotoneX))
    .attr("fill", "none").attr("stroke", "#1f78b4").attr("stroke-width", 2.4)
    .attr("stroke-linejoin", "round");
  body.append("line")
    .attr("x1", xT(peakTimes[i])).attr("x2", xT(peakTimes[i]))
    .attr("y1", ySfr(sfrDomain[0])).attr("y2", ySfr(sfrDomain[1]))
    .attr("stroke", "#111").attr("stroke-width", 2.2).attr("stroke-dasharray", "2,3.6");

  g.append("rect").attr("width", plotW).attr("height", botH)
    .attr("fill", "none").attr("stroke", spineColor).attr("stroke-width", 1.3);

  const ax = g.append("g").attr("transform", `translate(0,${botH})`)
    .call(d3.axisBottom(xT).tickValues(timeTicks).tickSize(5).tickPadding(10.8).tickFormat(d3.format("d")));
  styleAxis(ax, tickFont);
  const ay = g.append("g")
    .call(d3.axisLeft(ySfr).tickValues(sfrTicks).tickSize(5).tickPadding(7)
      .tickFormat(i === 0 ? d3.format(".1f") : () => ""));
  styleAxis(ay, tickFont);

  g.append("text").attr("x", plotW / 2).attr("y", botH + 57)
    .attr("text-anchor", "middle").attr("font-family", serif).attr("font-size", 18)
    .attr("fill", inkColor).text("Time (Gyr)");
});

// Shared y-axis titles
svg.append("text").attr("transform", `translate(45,${topY + topH / 2}) rotate(-90)`)
  .attr("text-anchor", "middle").attr("font-family", serif).attr("font-size", 17)
  .attr("fill", inkColor).text("[Si/Fe]");
svg.append("text").attr("transform", `translate(78,${botY + 134}) rotate(-90)`)
  .attr("text-anchor", "middle").attr("font-family", serif).attr("font-size", 18)
  .attr("fill", inkColor).text("SFR/SFR peak");
</script>
</body>
</html>
